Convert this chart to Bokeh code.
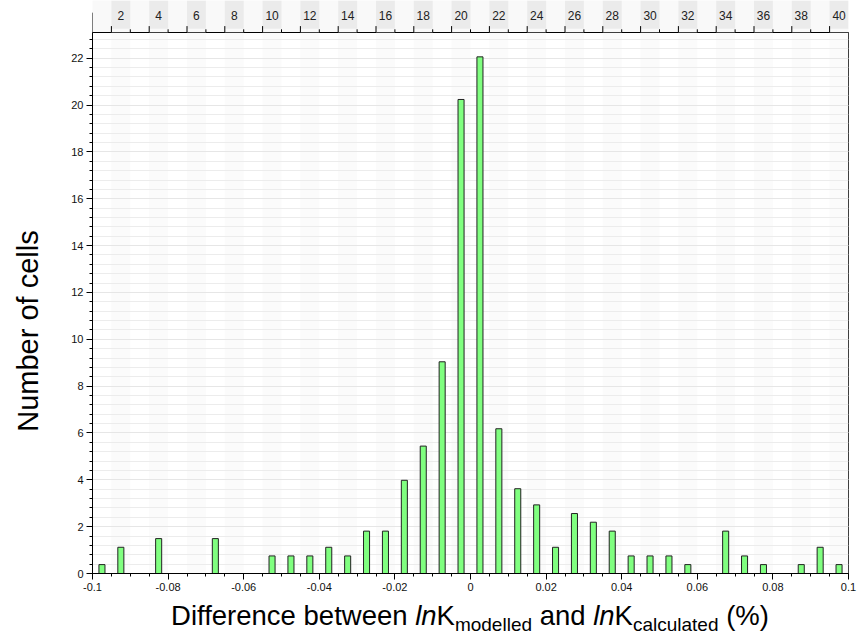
import numpy as np
from bokeh.plotting import figure
from bokeh.models import FixedTicker, NumeralTickFormatter, Range1d, Div, ColumnDataSource
from bokeh.layouts import column, row
from bokeh.embed import file_html
from bokeh.resources import INLINE
from bokeh.core.properties import value

# ---- data ----
bin_index = list(range(1, 41))
cell_counts = [0.38, 1.12, 0, 1.49, 0, 0, 1.49, 0, 0, 0.75,
               0.75, 0.75, 1.12, 0.75, 1.81, 1.81, 3.98, 5.44, 9.04, 20.24,
               22.06, 6.18, 3.62, 2.93, 1.12, 2.56, 2.19, 1.81, 0.75, 0.75,
               0.75, 0.38, 0, 1.81, 0.75, 0.38, 0, 0.38, 1.12, 0.38]
x_tick_values = [-0.1, -0.08, -0.06, -0.04, -0.02, 0, 0.02, 0.04, 0.06, 0.08, 0.1]
y_tick_values = [0, 2, 4, 6, 8, 10, 12, 14, 16, 18, 20, 22]
top_labels = [str(i) for i in range(2, 41, 2)]

x_min, x_max = -0.1, 0.1
y_max = 23.1
n_bins = len(bin_index)
bin_w = (x_max - x_min) / n_bins
idx = np.array(bin_index)
centers = x_min + (idx - 0.5) * bin_w
edges = x_min + np.arange(n_bins + 1) * bin_w
counts = np.array(cell_counts)
nz = counts > 0

FONT = "Liberation Sans"
TITLE_W = 56                 # column holding the y-axis title
LEFT, RIGHT = 92 - TITLE_W, 12
FIG_W = 860 - TITLE_W

# ---- top strip with bin numbers ----
s = figure(width=FIG_W, height=32, x_range=Range1d(x_min, x_max), y_range=Range1d(0, 1),
           output_backend="svg", toolbar_location=None,
           x_axis_type=None, y_axis_type=None,
           min_border_left=LEFT, min_border_right=RIGHT, min_border_top=0, min_border_bottom=0)
s.background_fill_color = "#f9f9f9"
s.border_fill_color = "white"
s.outline_line_color = None
s.grid.visible = False
even = idx % 2 == 0
s.quad(left=edges[:-1][even], right=edges[1:][even], bottom=0.12, top=1,
       fill_color="#ebebeb", line_color=None)
long_e = edges[1:-1:2]
short_e = edges[2:-1:2]
s.segment(x0=long_e, y0=0, x1=long_e, y1=0.2, line_color="#000000", line_width=1)
s.segment(x0=short_e, y0=0, x1=short_e, y1=0.1, line_color="#000000", line_width=1)
s.segment(x0=[x_min], y0=[0], x1=[x_min], y1=[0.62], line_color="#000000", line_width=1)
s.text(x=centers[even], y=0.52, text=top_labels, text_align="center", text_baseline="middle",
       text_font=value(FONT), text_font_size="12px", text_color="#222222")

# ---- main histogram ----
p = figure(width=FIG_W, height=568, x_range=s.x_range, y_range=Range1d(0, y_max),
           output_backend="svg", toolbar_location=None,
           min_border_left=LEFT, min_border_right=RIGHT, min_border_top=0, min_border_bottom=27)
p.outline_line_color = "#000000"
p.background_fill_color = "white"
p.border_fill_color = "white"

src = ColumnDataSource(dict(x=centers[nz], top=counts[nz]))
p.vbar(x="x", top="top", width=bin_w * 0.32, source=src,
       fill_color="#80ff80", line_color="#222222", line_width=1)

minor_y = [round(0.4 * k, 2) for k in range(0, 58)]
p.xaxis.ticker = FixedTicker(ticks=x_tick_values, minor_ticks=list(edges))
p.xaxis.formatter = NumeralTickFormatter(format="0.[00]")
p.yaxis.ticker = FixedTicker(ticks=y_tick_values, minor_ticks=minor_y)

for ax in (p.xaxis[0], p.yaxis[0]):
    ax.major_tick_out = 6
    ax.major_tick_in = 0
    ax.minor_tick_out = 3
    ax.minor_tick_in = 0
    ax.axis_line_color = "#000000"
    ax.major_tick_line_color = "#000000"
    ax.minor_tick_line_color = "#000000"
    ax.major_label_text_font = FONT
    ax.major_label_text_font_size = "11px"
    ax.major_label_text_color = "#111111"
    ax.major_label_standoff = 3

p.ygrid.grid_line_color = "#e6e6e6"
p.ygrid.minor_grid_line_color = "#ececec"
p.xgrid.ticker = FixedTicker(ticks=list(edges))
p.xgrid.grid_line_color = None
p.xgrid.band_fill_color = "#fbfbfb"
p.xgrid.band_fill_alpha = 1

# ---- x-axis title with subscripts ----
W = FIG_W - LEFT - RIGHT
label_html = (
    f'<div style="display:block;width:{W}px;text-align:center;font-family:\'Liberation Sans\';font-size:27.5px;'
    'line-height:31px;color:#000;white-space:nowrap;">'
    'Difference between <i>ln</i>K<span style="font-size:19px;position:relative;top:6px;">modelled</span>'
    ' and <i>ln</i>K<span style="font-size:19px;position:relative;top:6px;">calculated</span> (%)'
    '</div>'
)
d = Div(text=label_html, width=W, height=40, margin=(0, RIGHT, 0, LEFT),
        styles={"text-align": "center", "width": f"{W}px"})

# ---- y-axis title (rotated text, centred at x=28, y=331 as in the reference) ----
ytitle_html = (
    f'<div style="position:relative;width:{TITLE_W}px;height:640px;">'
    '<div style="position:absolute;left:28px;top:331px;transform:translate(-50%,-50%) rotate(-90deg);'
    'white-space:nowrap;font-family:\'Liberation Sans\';font-size:29px;line-height:32px;color:#000;">'
    'Number of cells</div></div>'
)
yt = Div(text=ytitle_html, width=TITLE_W, height=640, margin=(0, 0, 0, 0))

layout = row(yt, column(s, p, d, spacing=0), spacing=0)
open("out.html", "w").write(file_html(layout, INLINE))
